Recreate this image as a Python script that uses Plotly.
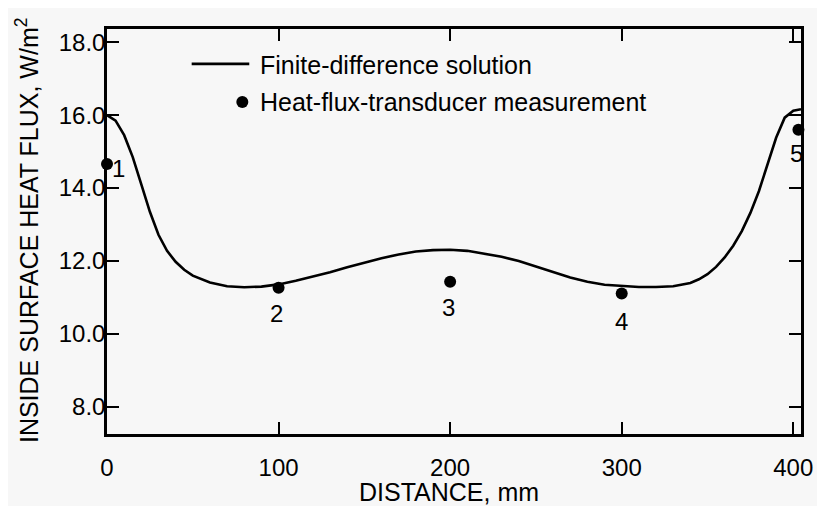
import plotly.graph_objects as go

# finite-difference solution curve
fd_x = [0, 5, 10, 15, 20, 25, 30, 35, 40, 45, 50, 60, 70, 80, 90, 100, 110, 120,
        130, 140, 150, 160, 170, 180, 190, 200, 210, 220, 230, 240, 250, 260, 270,
        280, 290, 300, 310, 320, 330, 340, 345, 350, 355, 360, 365, 370, 375, 380,
        385, 390, 395, 400, 404.5]
fd_y = [16.0, 15.85, 15.45, 14.85, 14.1, 13.35, 12.72, 12.28, 11.98, 11.76, 11.6,
        11.41, 11.31, 11.28, 11.3, 11.36, 11.46, 11.57, 11.69, 11.83, 11.96, 12.08,
        12.18, 12.26, 12.3, 12.31, 12.28, 12.21, 12.12, 12.0, 11.86, 11.7, 11.55,
        11.43, 11.35, 11.31, 11.29, 11.29, 11.31, 11.4, 11.5, 11.64, 11.84, 12.1,
        12.42, 12.82, 13.32, 13.92, 14.62, 15.38, 15.93, 16.12, 16.16]

# heat-flux-transducer measurements
meas_x = [0, 100, 200, 300, 403]
meas_y = [14.66, 11.27, 11.43, 11.11, 15.6]
meas_lbl = ["1", "2", "3", "4", "5"]
lbl_shift = [(11, -4), (-2, -26), (-2, -26), (0, -28), (-2, -24)]

xticks = [0, 100, 200, 300, 400]
yticks = [8, 10, 12, 14, 16, 18]

FONT = "Liberation Sans, Arial, Helvetica, sans-serif"
INK = "#000000"

fig = go.Figure()
fig.add_trace(go.Scatter(x=fd_x, y=fd_y, mode="lines",
                         line=dict(color=INK, width=2.6), cliponaxis=False))
fig.add_trace(go.Scatter(x=meas_x, y=meas_y, mode="markers",
                         marker=dict(color=INK, size=12), cliponaxis=False))

for x, y, t, (dx, dy) in zip(meas_x, meas_y, meas_lbl, lbl_shift):
    fig.add_annotation(x=x, y=y, text=t, showarrow=False, xshift=dx, yshift=dy,
                       font=dict(size=24, color=INK, family=FONT))

# hand-made legend
fig.add_shape(type="line", xref="paper", yref="paper", x0=0.122, x1=0.205,
              y0=0.914, y1=0.914, line=dict(color=INK, width=2.6))
fig.add_shape(type="circle", xref="paper", yref="paper", xsizemode="pixel",
              ysizemode="pixel", xanchor=0.195, yanchor=0.82,
              x0=-6, x1=6, y0=-6, y1=6, fillcolor=INK, line=dict(width=0))
fig.add_annotation(xref="paper", yref="paper", x=0.217, y=0.91, xanchor="left",
                   yanchor="middle", text="Finite-difference solution", showarrow=False,
                   font=dict(size=25, color=INK, family=FONT))
fig.add_annotation(xref="paper", yref="paper", x=0.217, y=0.82, xanchor="left",
                   yanchor="middle", text="Heat-flux-transducer measurement",
                   showarrow=False, font=dict(size=25, color=INK, family=FONT))

# axis titles placed by hand
fig.add_annotation(xref="paper", yref="paper", x=0.493, y=-0.143, xanchor="center",
                   yanchor="middle", text="DISTANCE, mm", showarrow=False,
                   font=dict(size=25, color=INK, family=FONT))
fig.add_annotation(xref="paper", yref="paper", x=-0.115, y=0.504, xanchor="center",
                   yanchor="middle", textangle=-90, showarrow=False,
                   text="INSIDE SURFACE HEAT FLUX, W/m<sup>2</sup>",
                   font=dict(size=25, color=INK, family=FONT))

axis_common = dict(showline=True, linecolor=INK, linewidth=2.5, mirror="ticks",
                   ticks="inside", ticklen=12, tickwidth=2, tickcolor=INK,
                   showgrid=False, zeroline=False,
                   tickfont=dict(size=24, color=INK, family=FONT))

# page body adds an 8 px offset, so margins are trimmed by that much
fig.update_layout(
    width=817, height=498,
    margin=dict(l=99, r=12, t=21, b=72),
    paper_bgcolor="#f7f7f7", plot_bgcolor="#f7f7f7",
    showlegend=False,
    xaxis=dict(range=[0, 404.5], tickvals=xticks, ticklabelstandoff=10,
               **axis_common),
    yaxis=dict(range=[7.26, 18.36], tickvals=yticks, tickformat=".1f",
               ticklabelstandoff=-6, **axis_common),
)

fig.write_html("out.html")
